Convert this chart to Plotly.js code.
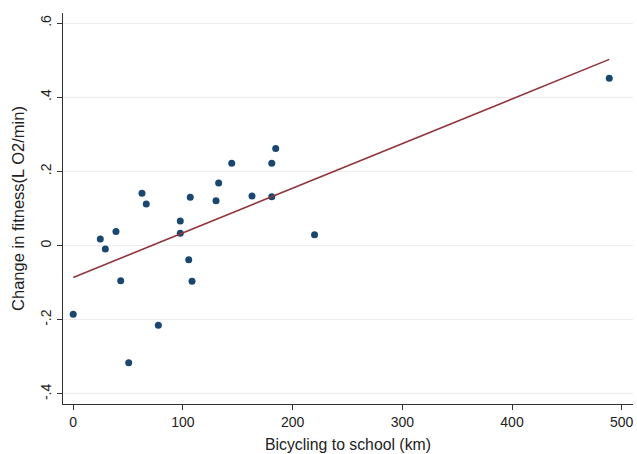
<!DOCTYPE html>
<html>
<head>
<meta charset="utf-8">
<script src="https://cdn.plot.ly/plotly-3.0.1.min.js"></script>
<style>html,body{margin:0;padding:0;background:#fff;}#chart{width:637px;height:454px;}</style>
</head>
<body>
<div id="chart"></div>
<script>
// Observed data: bicycling distance (km) vs change in fitness (L O2/min)
const distanceKm = [0, 24.7, 29.3, 39, 43.3, 50.6, 62.7, 66.6, 77.6, 97.6, 97.6, 105.3, 106.7, 108.3, 130.2, 132.6, 144.5, 163, 181, 181, 184.6, 220, 488.7];
const fitnessChange = [-0.185, 0.018, -0.009, 0.038, -0.095, -0.316, 0.141, 0.112, -0.215, 0.066, 0.033, -0.038, 0.130, -0.096, 0.121, 0.169, 0.222, 0.134, 0.222, 0.132, 0.262, 0.029, 0.451];
// Fitted line endpoints
const fitX = [0, 488.7];
const fitY = [-0.086, 0.502];
// Tick labels
const xTickVals = [0, 100, 200, 300, 400, 500];
const xTickText = ["0", "100", "200", "300", "400", "500"];
const yTickVals = [-0.4, -0.2, 0, 0.2, 0.4, 0.6];
const yTickText = ["-.4", "-.2", "0", ".2", ".4", ".6"];

const font = {family: "Liberation Sans, Arial, sans-serif", size: 14, color: "#222"};
const xTitleFont = {family: "Liberation Sans, Arial, sans-serif", size: 15.8, color: "#222"};
const yTitleFont = {family: "Liberation Sans, Arial, sans-serif", size: 16.5, color: "#222"};

const traces = [
  {
    type: "scatter", mode: "markers", x: distanceKm, y: fitnessChange,
    marker: {color: "#1a476f", size: 7}, cliponaxis: false, showlegend: false
  },
  {
    type: "scatter", mode: "lines", x: fitX, y: fitY,
    line: {color: "#90353b", width: 1.6}, showlegend: false
  }
];

const layout = {
  width: 637, height: 454,
  margin: {l: 63, r: 4, t: 13, b: 50},
  paper_bgcolor: "#fff", plot_bgcolor: "#fff",
  font: font,
  showlegend: false,
  xaxis: {
    range: [-9.3, 510.3], tickvals: xTickVals, ticktext: xTickText,
    ticks: "outside", ticklen: 5, tickcolor: "#333", tickwidth: 1,
    showline: true, linecolor: "#333", linewidth: 1,
    showgrid: false, zeroline: false, tickfont: font,
    title: {text: "Bicycling to school (km)", font: xTitleFont, standoff: 10}
  },
  yaxis: {
    range: [-0.427, 0.627], tickvals: yTickVals, ticktext: yTickText,
    ticks: "outside", ticklen: 5, tickcolor: "#333", tickwidth: 1,
    tickangle: -90,
    showline: true, linecolor: "#333", linewidth: 1,
    showgrid: true, gridcolor: "#ececec", gridwidth: 1, zeroline: false, tickfont: font,
    title: {text: "Change in fitness(L O2/min)", font: yTitleFont, standoff: 9}
  }
};

Plotly.newPlot("chart", traces, layout, {staticPlot: true, displayModeBar: false});
</script>
</body>
</html>
